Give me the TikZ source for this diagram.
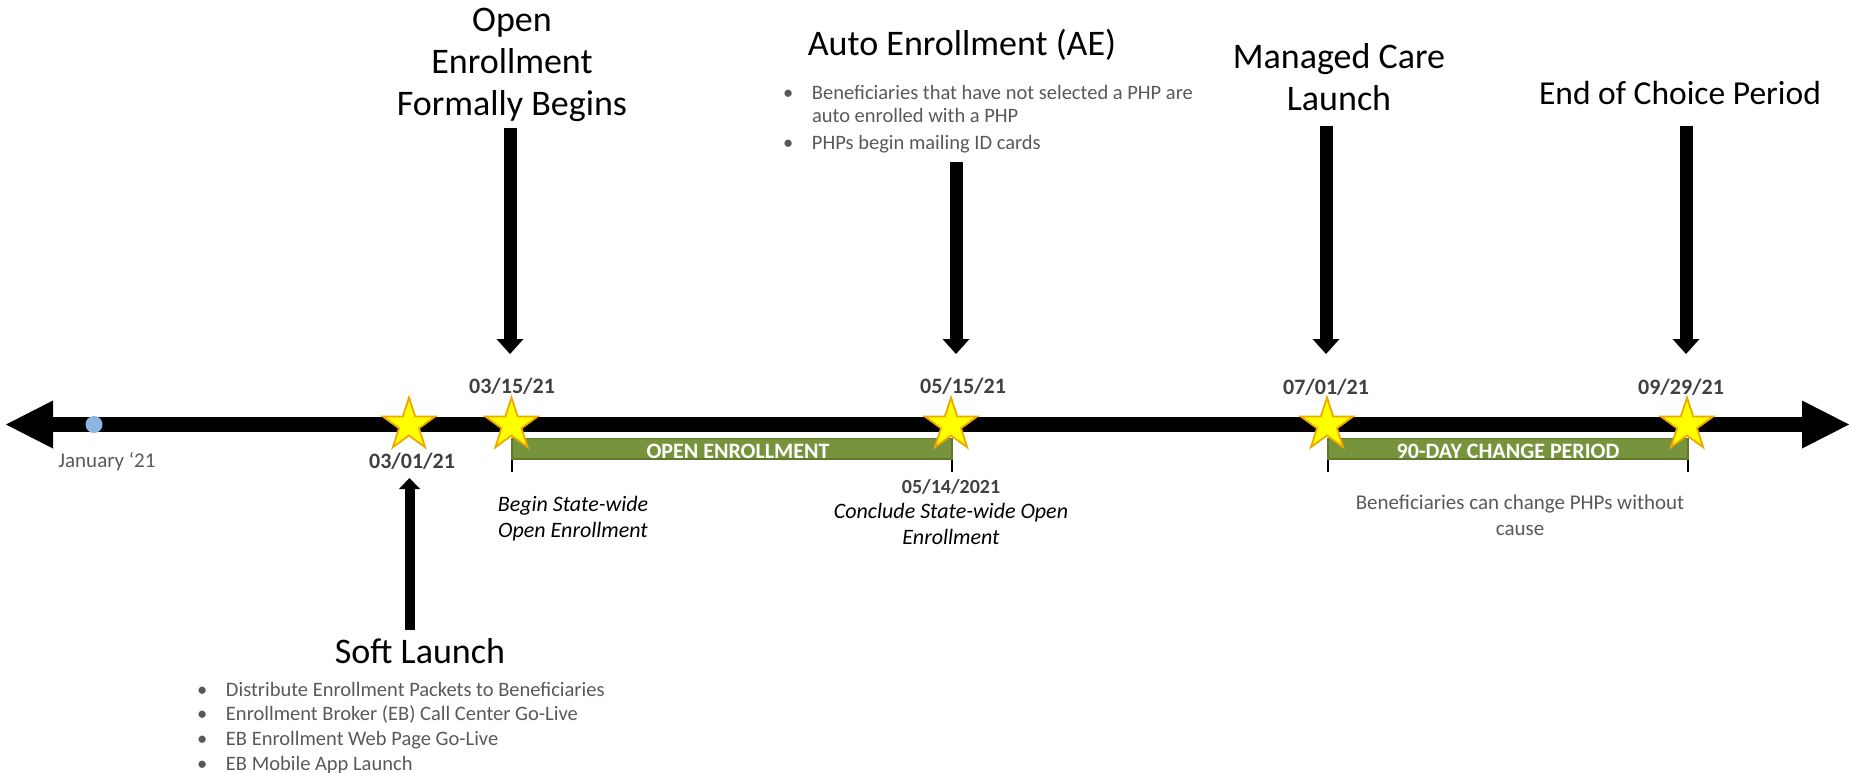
\documentclass[tikz,border=0pt]{standalone}
\usepackage{fontspec}
\setmainfont{Carlito}
\usetikzlibrary{arrows.meta,shapes.geometric}
\definecolor{txtgray}{HTML}{595959}
\definecolor{dategray}{HTML}{404040}
\definecolor{oegreen}{HTML}{77933C}
\definecolor{oeborder}{HTML}{5E7A2A}
\definecolor{starfill}{HTML}{FFFF00}
\definecolor{starline}{HTML}{F0A800}
\definecolor{dotblue}{HTML}{8EB4E3}
\newcommand\bulmark{\makebox[29pt][l]{•}}
\begin{document}
\begin{tikzpicture}[x=1pt,y=-1pt,
  lbl/.style={inner sep=0pt, outer sep=0pt, anchor=base},
  titlelbl/.style={lbl, font=\fontsize{36}{42}\selectfont},
  datelbl/.style={lbl, font=\fontsize{22}{26}\selectfont\bfseries, text=dategray},
  italbl/.style={lbl, font=\fontsize{22}{26.5}\selectfont\itshape},
  notelbl/.style={lbl, font=\fontsize{21}{26}\selectfont, text=txtgray},
  bullbl/.style={lbl, anchor=base west, font=\fontsize{20.5}{24.7}\selectfont, text=txtgray},
  barlbl/.style={lbl, font=\fontsize{22}{24}\selectfont\bfseries, text=white},
  blockarrow/.style={line width=13pt, -{Triangle[width=27pt,length=15pt,line width=0pt]}},
  smallarrow/.style={line width=10pt, -{Triangle[width=21pt,length=11pt,line width=0pt]}},
  timeline/.style={line width=15.5pt, {Triangle[width=48pt,length=47pt,line width=0pt]}-{Triangle[width=48pt,length=47pt,line width=0pt]}},
  tick/.style={line width=1.2pt, black},
  greenbar/.style={fill=oegreen, draw=oeborder, line width=1.5pt},
  starshape/.style={star, star points=5, star point ratio=2.618, minimum size=55pt, inner sep=0pt, fill=starfill, draw=starline, line width=1.8pt},
  dotshape/.style={circle, minimum size=17pt, inner sep=0pt, fill=dotblue}
]
\useasboundingbox (0,0) rectangle (1849,772);

% timeline
\coordinate (tlL) at (6,424.5);
\coordinate (tlR) at (1849,424.5);
\draw[timeline] (tlL) -- (tlR);
\node[dotshape] (jandot) at (94,424.5) {};
\node[lbl, font=\fontsize{21}{24}\selectfont, text=txtgray] (jan) at (107,467) {January ‘21};

% ticks
\coordinate (t1a) at (512,440); \coordinate (t1b) at (512,472);
\coordinate (t2a) at (952,440); \coordinate (t2b) at (952,472);
\coordinate (t3a) at (1328,440); \coordinate (t3b) at (1328,472);
\coordinate (t4a) at (1688,440); \coordinate (t4b) at (1688,472);
\draw[tick] (t1a) -- (t1b);
\draw[tick] (t2a) -- (t2b);
\draw[tick] (t3a) -- (t3b);
\draw[tick] (t4a) -- (t4b);

% green bars
\coordinate (oeBarA) at (512,438.5); \coordinate (oeBarB) at (952,459);
\coordinate (cpBarA) at (1328,438.5); \coordinate (cpBarB) at (1688,459);
\draw[greenbar] (oeBarA) rectangle (oeBarB);
\draw[greenbar] (cpBarA) rectangle (cpBarB);
\node[barlbl] (oeLbl) at (738,458) {OPEN ENROLLMENT};
\node[barlbl] (cpLbl) at (1508,458) {90-DAY CHANGE PERIOD};

% stars
\node[starshape] (s0301) at (409,425) {};
\node[starshape] (s0315) at (511.5,425) {};
\node[starshape] (s0515) at (951,425) {};
\node[starshape] (s0701) at (1327,425) {};
\node[starshape] (s0929) at (1687,425) {};

% dates
\node[datelbl] (d0301) at (412,468) {03/01/21};
\node[datelbl] (d0315) at (512,393) {03/15/21};
\node[datelbl] (d0515) at (963,393) {05/15/21};
\node[datelbl] (d0701) at (1326,394) {07/01/21};
\node[datelbl] (d0929) at (1681,394) {09/29/21};
\node[datelbl, font=\fontsize{20}{24}\selectfont\bfseries] (d0514) at (951,493) {05/14/2021};

% italic notes
\node[italbl] (beginT) at (573,511) {\begin{tabular}[t]{@{}c@{}}Begin State-wide\\Open Enrollment\end{tabular}};
\node[italbl] (concT) at (951,518) {\begin{tabular}[t]{@{}c@{}}Conclude State-wide Open\\Enrollment\end{tabular}};
\node[notelbl] (chgT) at (1520,509) {\begin{tabular}[t]{@{}c@{}}Beneficiaries can change PHPs without\\cause\end{tabular}};

% titles
\node[titlelbl] (oeT) at (512,31.5) {\begin{tabular}[t]{@{}c@{}}Open\\Enrollment\\Formally Begins\end{tabular}};
\node[titlelbl] (aeT) at (962,55.5) {Auto Enrollment (AE)};
\node[titlelbl] (mcT) at (1339,68) {\begin{tabular}[t]{@{}c@{}}Managed Care\\Launch\end{tabular}};
\node[titlelbl, font=\fontsize{33.5}{40}\selectfont] (ecT) at (1680,104) {End of Choice Period};
\node[titlelbl] (slT) at (420,663) {Soft Launch};

% bullet lists
\node[bullbl] (aeB) at (783,99) {\begin{tabular}[t]{@{}l@{}}\bulmark Beneficiaries that have not selected a PHP are\\[-1pt] \hspace*{29pt}auto enrolled with a PHP\\[2pt] \bulmark PHPs begin mailing ID cards\end{tabular}};
\node[bullbl] (slB) at (197,696) {\begin{tabular}[t]{@{}l@{}}\bulmark Distribute Enrollment Packets to Beneficiaries\\ \bulmark Enrollment Broker (EB) Call Center Go-Live\\ \bulmark EB Enrollment Web Page Go-Live\\ \bulmark EB Mobile App Launch\end{tabular}};

% block arrows
\coordinate (oeA1) at (510,128); \coordinate (oeA2) at (510,354);
\coordinate (aeA1) at (956,162); \coordinate (aeA2) at (956,354);
\coordinate (mcA1) at (1326,126); \coordinate (mcA2) at (1326,354);
\coordinate (ecA1) at (1686,126); \coordinate (ecA2) at (1686,354);
\coordinate (slA1) at (409.5,630); \coordinate (slA2) at (409.5,478);
\draw[blockarrow] (oeA1) -- (oeA2);
\draw[blockarrow] (aeA1) -- (aeA2);
\draw[blockarrow] (mcA1) -- (mcA2);
\draw[blockarrow] (ecA1) -- (ecA2);
\draw[smallarrow] (slA1) -- (slA2);
\end{tikzpicture}
\end{document}
